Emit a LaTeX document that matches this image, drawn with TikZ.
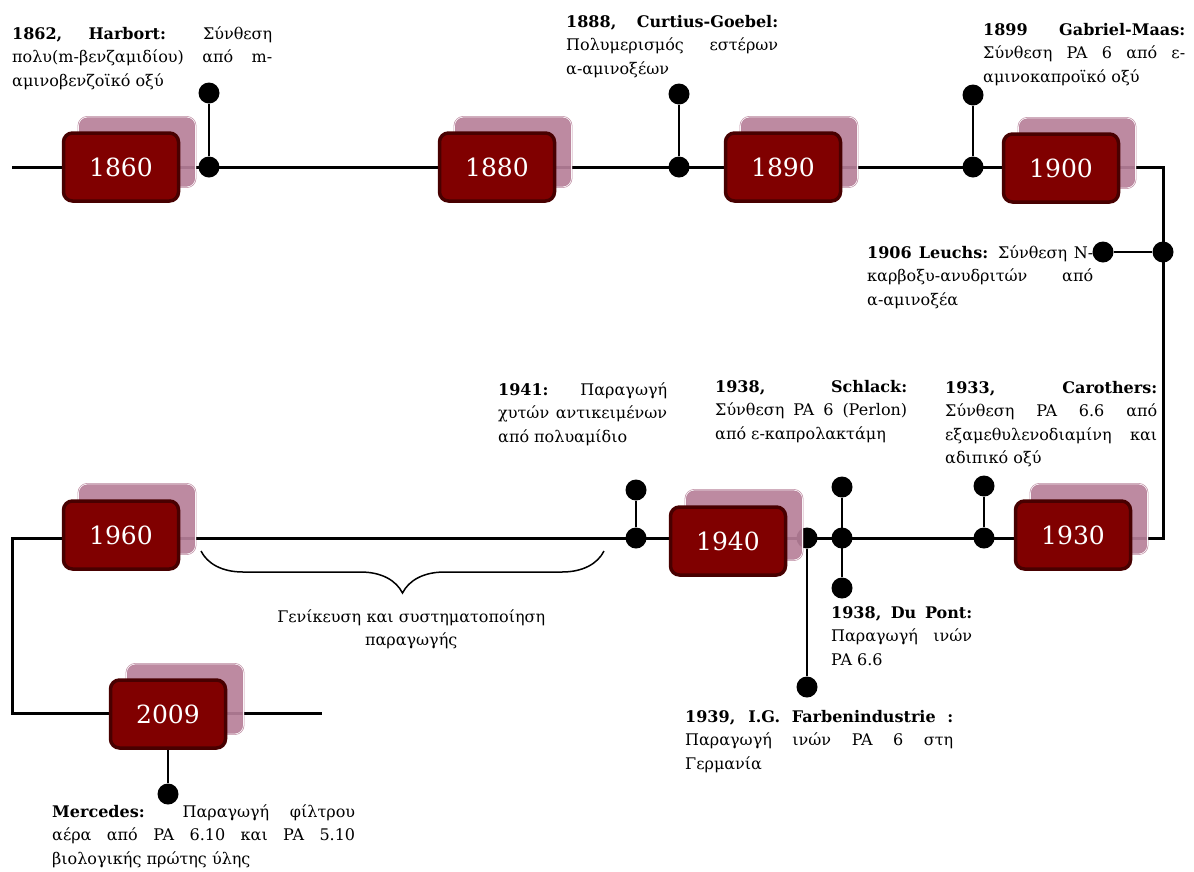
\documentclass[tikz,border=0pt]{standalone}
\usepackage{fontspec}
\setmainfont{DejaVu Serif}
\usetikzlibrary{positioning,decorations.pathreplacing}
\definecolor{yearred}{RGB}{128,0,0}
\definecolor{yearedge}{RGB}{72,0,0}
\definecolor{yearpink}{RGB}{183,128,153}
\tolerance=10000
\hyphenpenalty=10000
\exhyphenpenalty=10000

\begin{document}
\begin{tikzpicture}[x=1pt,y=-1pt,font=\fontsize{16}{23.5}\selectfont]
	\tikzstyle{year}=[rectangle,rounded corners=9pt,fill=yearred,draw=yearedge,line width=3.5pt,minimum width=115pt,minimum height=68pt,text=white,font=\fontsize{25}{28}\selectfont]
	\tikzstyle{yearback}=[rectangle,rounded corners=9pt,fill=yearpink,draw=yearpink,double=white,double distance=0.7pt,line width=0.6pt,minimum width=117pt,minimum height=70pt,opacity=0.92]
	\tikzstyle{dot}=[circle,fill=black,inner sep=0pt,minimum size=21pt]
	\tikzstyle{event}=[align=justify,inner sep=0pt,anchor=base west]
	\tikzstyle{timeline}=[line width=3pt]
	\tikzstyle{stem}=[line width=2.2pt]

	\useasboundingbox (0,0) rectangle (1194,871);

	% the time line
	\coordinate (start) at (12,167);
	\coordinate (topright) at (1163,167);
	\coordinate (midright) at (1163,538);
	\coordinate (midleft) at (12,538);
	\coordinate (lowleft) at (12,713);
	\coordinate (finish) at (322,713);
	\draw[timeline] (start) -- (topright) -- (midright) -- (midleft) -- (lowleft) -- (finish);

	% events on the line
	\node[dot] (d1862) at (209,167) {};
	\node[dot] (d1862t) at (209,93) {};
	\node[dot] (d1888) at (679,167) {};
	\node[dot] (d1888t) at (679,94) {};
	\node[dot] (d1899) at (973,167) {};
	\node[dot] (d1899t) at (973,95) {};
	\node[dot] (d1906) at (1163,252) {};
	\node[dot] (d1906t) at (1103,252) {};
	\node[dot] (d1941) at (636,538) {};
	\node[dot] (d1941t) at (636,490) {};
	\node[dot] (d1939) at (807,538) {};
	\node[dot] (d1939b) at (807,687) {};
	\node[dot] (d1938) at (842,538) {};
	\node[dot] (d1938t) at (842,487) {};
	\node[dot] (d1938b) at (842,588) {};
	\node[dot] (d1933) at (984,538) {};
	\node[dot] (d1933t) at (984,486) {};
	\node[dot] (dMerc) at (168,794) {};

	\draw[stem] (d1862) -- (d1862t);
	\draw[stem] (d1888) -- (d1888t);
	\draw[stem] (d1899) -- (d1899t);
	\draw[stem] (d1906) -- (d1906t);
	\draw[stem] (d1941) -- (d1941t);
	\draw[stem] (d1939) -- (d1939b);
	\draw[stem] (d1938t) -- (d1938b);
	\draw[stem] (d1933) -- (d1933t);

	% year boxes
	\node[yearback] (b1860bk) at (137,152) {};
	\node[yearback] (b1880bk) at (513,152) {};
	\node[yearback] (b1890bk) at (799,152) {};
	\node[yearback] (b1900bk) at (1077,153) {};
	\node[yearback] (b1960bk) at (137,519) {};
	\node[yearback] (b1940bk) at (744,525) {};
	\node[yearback] (b1930bk) at (1089,519) {};
	\node[yearback] (b2009bk) at (185,699) {};

	\node[year] (b1860) at (121,167) {1860};
	\node[year] (b1880) at (497,167) {1880};
	\node[year] (b1890) at (783,167) {1890};
	\node[year] (b1900) at (1061,168) {1900};
	\node[year] (b1960) at (121,535) {1960};
	\node[year] (b1940) at (728,541) {1940};
	\node[year] (b1930) at (1073,535) {1930};
	\node[year] (b2009) at (168,714) {2009};

	\draw[stem] (b2009) -- (dMerc);

	% texts
	\node[event,text width=260pt] (t1862) at (12,39) {\textbf{1862, Harbort:} Σύνθεση\linebreak πολυ(m-βενζαμιδίου) από m-\linebreak αμινοβενζοϊκό οξύ};
	\node[event,text width=212pt] (t1888) at (566,27) {\textbf{1888, Curtius-Goebel:}\linebreak Πολυμερισμός εστέρων\linebreak α-αμινοξέων};
	\node[event,text width=202pt] (t1899) at (983,35) {\textbf{1899 Gabriel-Maas:}\linebreak Σύνθεση PA 6 από ε-\linebreak αμινοκαπροϊκό οξύ};
	\node[event,text width=226pt] (t1906) at (867,258) {\textbf{1906 Leuchs:} Σύνθεση N-\linebreak καρβοξυ-ανυδριτών από\linebreak α-αμινοξέα};
	\node[event,text width=169pt] (t1941) at (498,395) {\textbf{1941:} Παραγωγή\linebreak χυτών αντικειμένων\linebreak από πολυαμίδιο};
	\node[event,text width=192pt] (t1938) at (715,392) {\textbf{1938, Schlack:}\linebreak Σύνθεση PA 6 (Perlon)\linebreak από ε-καπρολακτάμη};
	\node[event,text width=212pt] (t1933) at (945,393) {\textbf{1933, Carothers:}\linebreak Σύνθεση PA 6.6 από\linebreak εξαμεθυλενοδιαμίνη και\linebreak αδιπικό οξύ};
	\node[event,text width=141pt] (t1938b) at (831,618) {\textbf{1938, Du Pont:}\linebreak Παραγωγή ινών\linebreak PA 6.6};
	\node[event,text width=268pt] (t1939) at (685,722) {\textbf{1939, I.G. Farbenindustrie :}\linebreak Παραγωγή ινών PA 6 στη\linebreak Γερμανία};
	\node[event,text width=303pt] (tMerc) at (52,817) {\textbf{Mercedes:} Παραγωγή φίλτρου\linebreak αέρα από PA 6.10 και PA 5.10\linebreak βιολογικής πρώτης ύλης};

	% brace under the sixties
	\coordinate (braceL) at (201,551);
	\coordinate (braceR) at (604,551);
	\draw[line width=1.5pt,decorate,decoration={brace,mirror,amplitude=42pt}] (braceL) -- (braceR);
	\node[inner sep=0pt,anchor=base west,text width=300pt,align=center] (tBrace) at (261,622) {Γενίκευση και συστηματοποίηση\\ παραγωγής};
\end{tikzpicture}
\end{document}
